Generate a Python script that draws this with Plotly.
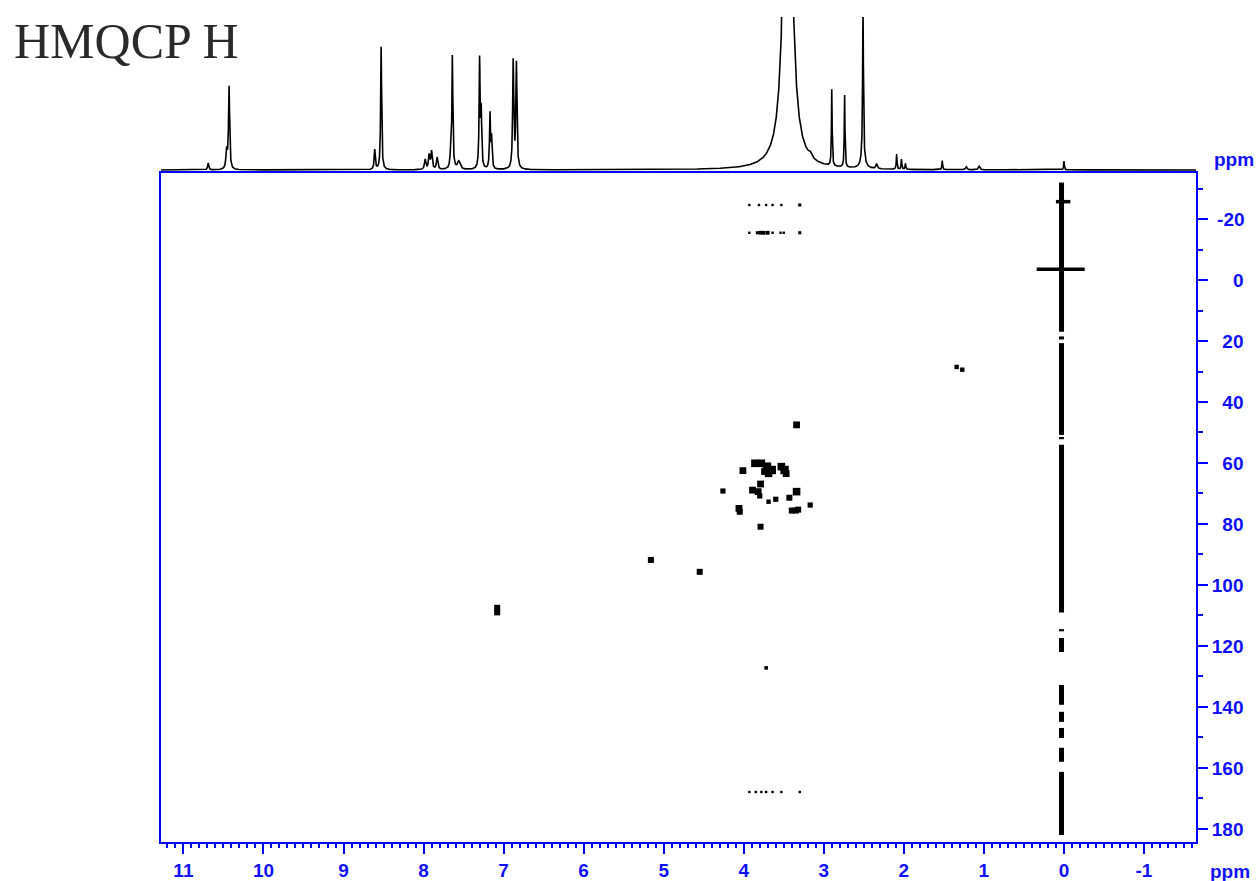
import numpy as np
import plotly.graph_objects as go

# ---------------- data ----------------
# 1D proton projection: peak positions (ppm), relative heights, half widths (ppm)
peak_ppm = [10.69, 10.46, 10.43, 8.61, 8.53, 7.98, 7.93, 7.90, 7.83, 7.66, 7.64, 7.56,
            7.30, 7.28, 7.17, 7.15, 6.88, 6.84, 3.45, 3.17, 2.90, 2.74, 2.51, 2.51,
            2.34, 2.09, 2.03, 1.98, 1.52, 1.22, 1.06, 0.0]
peak_height = [7, 18, 83, 20, 123, 10, 14, 18, 12, 14, 112, 8,
               108, 55, 55, 30, 108, 105, 490, 4, 77, 73, 150, 10,
               5, 15, 10, 6, 9, 3, 4, 9]
peak_hwhm = [0.008, 0.01, 0.008, 0.008, 0.007, 0.01, 0.01, 0.01, 0.01, 0.01, 0.007, 0.02,
             0.007, 0.007, 0.007, 0.007, 0.008, 0.008, 0.05, 0.02, 0.005, 0.005, 0.006, 0.03,
             0.01, 0.005, 0.005, 0.005, 0.005, 0.01, 0.01, 0.005]

# 2D cross peaks: 1H (ppm), 13C (ppm), relative intensity
cross_h = [3.34, 3.86, 3.78, 3.71, 3.65, 3.69, 3.74, 3.53, 3.49, 3.47, 4.01, 3.79, 3.89, 3.82,
           3.80, 4.26, 3.34, 3.60, 3.69, 3.43, 4.06, 4.05, 3.40, 3.35, 3.32, 3.17, 3.79,
           5.16, 4.55, 7.08, 7.08, 3.72, 1.34, 1.27]
cross_c = [47.5, 60.1, 60.1, 61.2, 62.3, 63.4, 62.8, 61.2, 62.3, 63.5, 62.5, 66.9, 68.9, 69.4,
           70.8, 69.2, 69.4, 71.9, 72.7, 71.4, 74.9, 76.0, 75.6, 75.6, 75.3, 73.8, 80.9,
           91.8, 95.7, 107.5, 109.0, 127.2, 28.5, 29.4]
cross_int = [0.6, 0.7, 0.7, 0.8, 0.8, 0.7, 0.6, 0.7, 0.8, 0.6, 0.6, 0.6, 0.6, 0.6,
             0.4, 0.4, 0.7, 0.4, 0.3, 0.5, 0.6, 0.5, 0.5, 0.5, 0.5, 0.4, 0.5,
             0.5, 0.5, 0.5, 0.5, 0.2, 0.3, 0.3]

# folded artefact rows
artefact_h = [3.93, 3.81, 3.72, 3.64, 3.53, 3.30,
              3.93, 3.83, 3.79, 3.75, 3.70, 3.64, 3.54, 3.50, 3.30,
              3.93, 3.85, 3.78, 3.72, 3.64, 3.53, 3.30]
artefact_c = [-24.6] * 6 + [-15.5] * 9 + [167.9] * 7
artefact_int = [0.2, 0.2, 0.2, 0.2, 0.2, 0.3,
                0.2, 0.3, 0.4, 0.4, 0.4, 0.2, 0.2, 0.2, 0.3,
                0.2, 0.2, 0.2, 0.2, 0.2, 0.2, 0.2]

# t1-noise streak at the TMS position: 13C segments (ppm)
streak_h = 0.03
streak_start = [-32, 18.5, 20.7, 51.5, 54, 114.5, 117.4, 132.8, 141.6, 146.9, 153.4, 161.3]
streak_end = [17, 19.5, 50.8, 52.2, 109, 115.2, 122, 139.3, 144.9, 150.2, 158, 182]
# horizontal bars across the streak: 13C ppm, 1H from, 1H to
bar_c = [-3.5, -25.7]
bar_h_from = [0.34, 0.10]
bar_h_to = [-0.26, -0.08]

x_ticks = list(range(-1, 12))
y_ticks = list(range(-20, 181, 20))

# ---------------- styling ----------------
BLUE = "#0000ff"
TXT_BLUE = "#1010ff"
LBL_FONT = dict(family="Liberation Sans, Arial, sans-serif", size=19, color=TXT_BLUE, weight="bold")

x_range = [11.28, -1.65]
y_range = [184.3, -35.1]

# ---------------- build figure ----------------
fig = go.Figure()

# 1D projection
xs = np.linspace(x_range[0], x_range[1], 9000)
spec = np.zeros_like(xs)
for p, h, w in zip(peak_ppm, peak_height, peak_hwhm):
    spec += h * w * w / ((xs - p) ** 2 + w * w)
fig.add_trace(go.Scatter(x=xs, y=spec, mode="lines", line=dict(color="black", width=1.6),
                         xaxis="x2", yaxis="y2", hoverinfo="skip", showlegend=False))

# streak segments
sx, sy = [], []
for a, b in zip(streak_start, streak_end):
    sx += [streak_h, streak_h, None]
    sy += [a, b, None]
fig.add_trace(go.Scatter(x=sx, y=sy, mode="lines", line=dict(color="black", width=5),
                         xaxis="x", yaxis="y", showlegend=False))
bx, by = [], []
for c, f, t in zip(bar_c, bar_h_from, bar_h_to):
    bx += [f, t, None]
    by += [c, c, None]
fig.add_trace(go.Scatter(x=bx, y=by, mode="lines", line=dict(color="black", width=3.5),
                         xaxis="x", yaxis="y", showlegend=False))

# cross peaks
fig.add_trace(go.Scatter(x=cross_h, y=cross_c, mode="markers",
                         marker=dict(symbol="square", color="black", opacity=1,
                                     size=[2 + 8 * v for v in cross_int], line=dict(width=0)),
                         xaxis="x", yaxis="y", showlegend=False))
fig.add_trace(go.Scatter(x=artefact_h, y=artefact_c, mode="markers",
                         marker=dict(symbol="square", color="black", opacity=1,
                                     size=[1 + 7 * v for v in artefact_int], line=dict(width=0)),
                         xaxis="x", yaxis="y", showlegend=False))

H_TOTAL = 881
B = 39
PLOT_H = H_TOTAL - B
split = (842 - 173) / PLOT_H
top = (842 - 17) / PLOT_H

fig.update_layout(
    width=1260, height=881,
    margin=dict(l=161, r=64, t=0, b=B, pad=0),
    paper_bgcolor="white", plot_bgcolor="white",
    showlegend=False,
    xaxis=dict(range=x_range, domain=[0, 1], anchor="y",
               tickvals=x_ticks, ticktext=[str(v) for v in x_ticks],
               ticks="outside", ticklen=10, tickwidth=2, tickcolor=BLUE,
               minor=dict(dtick=0.1, ticks="outside", ticklen=4, tickwidth=1.5, tickcolor=BLUE, showgrid=False),
               showline=True, linecolor=BLUE, linewidth=2, mirror=True,
               showgrid=False, zeroline=False, tickfont=LBL_FONT),
    yaxis=dict(range=y_range, domain=[0, split], anchor="x", side="right",
               tickvals=y_ticks,
               ticktext=["\u2008" + "-20"] + [("\u2007" * (3 - len(str(v)))) + str(v) for v in y_ticks[1:]],
               ticks="outside", ticklen=10, tickwidth=2, tickcolor=BLUE,
               minor=dict(dtick=10, ticks="outside", ticklen=5, tickwidth=1.5, tickcolor=BLUE, showgrid=False),
               showline=True, linecolor=BLUE, linewidth=2, mirror=True,
               showgrid=False, zeroline=False, tickfont=LBL_FONT),
    xaxis2=dict(range=x_range, domain=[0, 1], anchor="y2", matches="x", visible=False),
    yaxis2=dict(range=[-3, 153], domain=[split, top], anchor="x2", visible=False),
    annotations=[
        dict(text="HMQCP H", x=(12 - 161) / 1035, y=(PLOT_H - 41) / PLOT_H, xref="paper", yref="paper",
             xanchor="left", yanchor="middle", showarrow=False,
             font=dict(family="Liberation Serif, serif", size=50, color="#2a2a2a")),
        dict(text="ppm", x=(1234 - 161) / 1035, y=(PLOT_H - 160) / PLOT_H, xref="paper", yref="paper",
             xanchor="center", yanchor="middle", showarrow=False, font=LBL_FONT),
        dict(text="ppm", x=(1230 - 161) / 1035, y=(PLOT_H - 871) / PLOT_H, xref="paper", yref="paper",
             xanchor="center", yanchor="middle", showarrow=False, font=LBL_FONT),
    ],
)

fig.write_html("out.html")
